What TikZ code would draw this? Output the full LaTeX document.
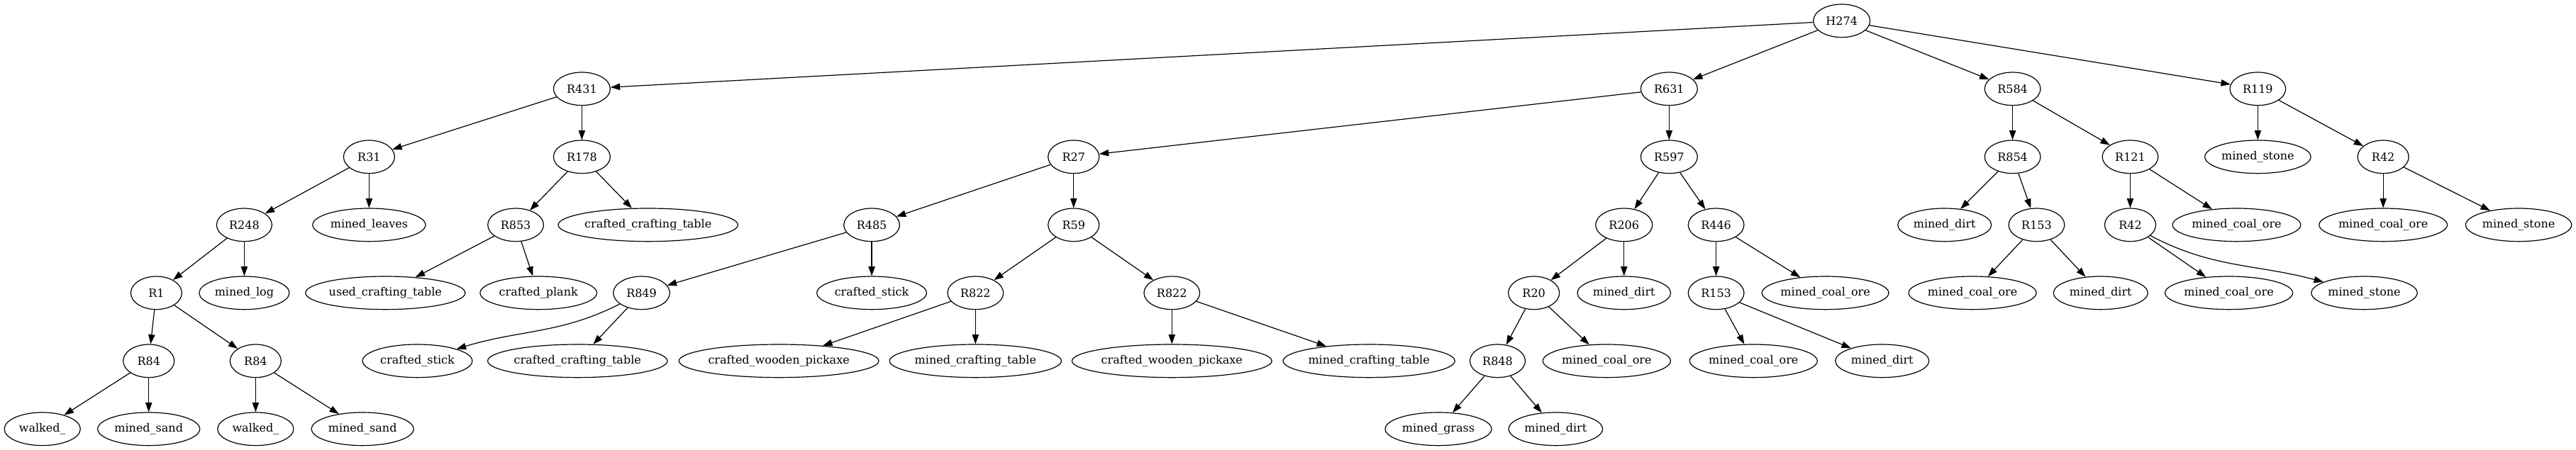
\documentclass[tikz,border=0pt]{standalone}
\usepackage{fontspec}
\newfontfamily\gvfont{DejaVu Serif}
\usetikzlibrary{shapes.geometric,arrows.meta}
\tikzset{
  ell/.style={draw, ellipse, line width=0.9pt, inner sep=0pt, minimum height=35pt, font=\gvfont\fontsize{12}{14}\selectfont},
  arr/.style={-{Triangle[length=10pt,width=7pt]}, line width=0.9pt}
}
\begin{document}
\begin{tikzpicture}[x=1pt,y=-1pt]
\useasboundingbox (0,0) rectangle (2724,476.25);
% level 0
\node[ell, minimum width=60pt] (H274) at (1947.5,22) {H274};
% level 1
\node[ell, minimum width=60pt] (R431) at (615.3,94) {R431};
\node[ell, minimum width=60pt] (R631) at (1765,94) {R631};
\node[ell, minimum width=59pt] (R584) at (2128.2,94) {R584};
\node[ell, minimum width=59pt] (R119) at (2387.5,94) {R119};
% level 2
\node[ell, minimum width=54pt] (R31) at (390.3,166) {R31};
\node[ell, minimum width=60pt] (R178) at (615.3,166) {R178};
\node[ell, minimum width=54pt] (R27) at (1135.3,166) {R27};
\node[ell, minimum width=60pt] (R597) at (1765,166) {R597};
\node[ell, minimum width=59pt] (R854) at (2128.2,166) {R854};
\node[ell, minimum width=59pt] (R121) at (2252.6,166) {R121};
\node[ell, minimum width=112pt] (mstoneA) at (2387.5,166) {mined\_stone};
\node[ell, minimum width=54pt] (R42a) at (2520.1,166) {R42};
% level 3
\node[ell, minimum width=58.5pt] (R248) at (258.3,238) {R248};
\node[ell, minimum width=119.4pt] (mleaves) at (390.3,238) {mined\_leaves};
\node[ell, minimum width=59pt] (R853) at (545.3,238) {R853};
\node[ell, minimum width=185pt] (cct1) at (685.3,238) {crafted\_crafting\_table};
\node[ell, minimum width=59pt] (R485) at (921.8,238) {R485};
\node[ell, minimum width=54pt] (R59) at (1135.3,238) {R59};
\node[ell, minimum width=60pt] (R206) at (1717.3,238) {R206};
\node[ell, minimum width=59pt] (R446) at (1814.7,238) {R446};
\node[ell, minimum width=99pt] (mdirtA) at (2056.3,238) {mined\_dirt};
\node[ell, minimum width=59pt] (R153a) at (2153.6,238) {R153};
\node[ell, minimum width=54pt] (R42b) at (2252.6,238) {R42};
\node[ell, minimum width=135.5pt] (mcoalA) at (2365.1,238) {mined\_coal\_ore};
\node[ell, minimum width=135.5pt] (mcoalB) at (2520.1,238) {mined\_coal\_ore};
\node[ell, minimum width=112pt] (mstoneB) at (2663.3,238) {mined\_stone};
% level 4
\node[ell, minimum width=54pt] (R1) at (165.3,310) {R1};
\node[ell, minimum width=95.3pt] (mlog) at (258.3,310) {mined\_log};
\node[ell, minimum width=164.7pt] (uct) at (407.5,310) {used\_crafting\_table};
\node[ell, minimum width=123.4pt] (cplank) at (569.4,310) {crafted\_plank};
\node[ell, minimum width=59.7pt] (R849) at (678.4,310) {R849};
\node[ell, minimum width=116pt] (cstickA) at (921.8,310) {crafted\_stick};
\node[ell, minimum width=59pt] (R822a) at (1031.5,310) {R822};
\node[ell, minimum width=59pt] (R822b) at (1239.2,310) {R822};
\node[ell, minimum width=54pt] (R20) at (1622,310) {R20};
\node[ell, minimum width=98.7pt] (mdirtB) at (1717.3,310) {mined\_dirt};
\node[ell, minimum width=59pt] (R153b) at (1814.7,310) {R153};
\node[ell, minimum width=134pt] (mcoalC) at (1930.2,310) {mined\_coal\_ore};
\node[ell, minimum width=135pt] (mcoalD) at (2085.8,310) {mined\_coal\_ore};
\node[ell, minimum width=99.6pt] (mdirtC) at (2221.3,310) {mined\_dirt};
\node[ell, minimum width=135pt] (mcoalE) at (2356.9,310) {mined\_coal\_ore};
\node[ell, minimum width=112pt] (mstoneC) at (2500.1,310) {mined\_stone};
% level 5
\node[ell, minimum width=54pt] (R84a) at (157.3,382) {R84};
\node[ell, minimum width=54pt] (R84b) at (270.3,382) {R84};
\node[ell, minimum width=116pt] (cstickB) at (441.4,382) {crafted\_stick};
\node[ell, minimum width=185pt] (cct2) at (610.7,382) {crafted\_crafting\_table};
\node[ell, minimum width=204pt] (cwp1) at (823.6,382) {crafted\_wooden\_pickaxe};
\node[ell, minimum width=177pt] (mct1) at (1031.5,382) {mined\_crafting\_table};
\node[ell, minimum width=204pt] (cwp2) at (1239.2,382) {crafted\_wooden\_pickaxe};
\node[ell, minimum width=176.5pt] (mct2) at (1447.6,382) {mined\_crafting\_table};
\node[ell, minimum width=58.5pt] (R848) at (1583.6,382) {R848};
\node[ell, minimum width=135pt] (mcoalF) at (1699,382) {mined\_coal\_ore};
\node[ell, minimum width=135pt] (mcoalG) at (1854.2,382) {mined\_coal\_ore};
\node[ell, minimum width=99pt] (mdirtD) at (1990.3,382) {mined\_dirt};
% level 6
\node[ell, minimum width=80.4pt] (walkA) at (44.8,454) {walked\_};
\node[ell, minimum width=108pt] (msandA) at (157.3,454) {mined\_sand};
\node[ell, minimum width=80.4pt] (walkB) at (270.3,454) {walked\_};
\node[ell, minimum width=108pt] (msandB) at (383.4,454) {mined\_sand};
\node[ell, minimum width=112.5pt] (mgrass) at (1521,454) {mined\_grass};
\node[ell, minimum width=99.3pt] (mdirtE) at (1645,454) {mined\_dirt};
% edges
\draw[arr] (H274) -- (R431);
\draw[arr] (H274) -- (R631);
\draw[arr] (H274) -- (R584);
\draw[arr] (H274) -- (R119);
\draw[arr] (R431) -- (R31);
\draw[arr] (R431) -- (R178);
\draw[arr] (R631) -- (R27);
\draw[arr] (R631) -- (R597);
\draw[arr] (R584) -- (R854);
\draw[arr] (R584) -- (R121);
\draw[arr] (R119) -- (mstoneA);
\draw[arr] (R119) -- (R42a);
\draw[arr] (R31) -- (R248);
\draw[arr] (R31) -- (mleaves);
\draw[arr] (R178) -- (R853);
\draw[arr] (R178) -- (cct1);
\draw[arr] (R27) -- (R485);
\draw[arr] (R27) -- (R59);
\draw[arr] (R597) -- (R206);
\draw[arr] (R597) -- (R446);
\draw[arr] (R854) -- (mdirtA);
\draw[arr] (R854) -- (R153a);
\draw[arr] (R121) -- (R42b);
\draw[arr] (R121) -- (mcoalA);
\draw[arr] (R42a) -- (mcoalB);
\draw[arr] (R42a) -- (mstoneB);
\draw[arr] (R248) -- (R1);
\draw[arr] (R248) -- (mlog);
\draw[arr] (R853) -- (uct);
\draw[arr] (R853) -- (cplank);
\draw[arr] (R485) -- (R849);
\draw[arr] (R485) -- (cstickA);
\draw[arr] (R59) -- (R822a);
\draw[arr] (R59) -- (R822b);
\draw[arr] (R206) -- (R20);
\draw[arr] (R206) -- (mdirtB);
\draw[arr] (R446) -- (R153b);
\draw[arr] (R446) -- (mcoalC);
\draw[arr] (R153a) -- (mcoalD);
\draw[arr] (R153a) -- (mdirtC);
\draw[arr] (R42b) -- (mcoalE);
\draw[arr] (R42b) to[out=-28, in=165] (mstoneC);
\draw[arr] (R1) -- (R84a);
\draw[arr] (R1) -- (R84b);
\draw[arr] (R849) to[out=207, in=17] (cstickB);
\draw[arr] (R849) -- (cct2);
\draw[arr] (R822a) -- (cwp1);
\draw[arr] (R822a) -- (mct1);
\draw[arr] (R822b) -- (cwp2);
\draw[arr] (R822b) -- (mct2);
\draw[arr] (R20) -- (R848);
\draw[arr] (R20) -- (mcoalF);
\draw[arr] (R153b) -- (mcoalG);
\draw[arr] (R153b) -- (mdirtD);
\draw[arr] (R84a) -- (walkA);
\draw[arr] (R84a) -- (msandA);
\draw[arr] (R84b) -- (walkB);
\draw[arr] (R84b) -- (msandB);
\draw[arr] (R848) -- (mgrass);
\draw[arr] (R848) -- (mdirtE);
\end{tikzpicture}
\end{document}
